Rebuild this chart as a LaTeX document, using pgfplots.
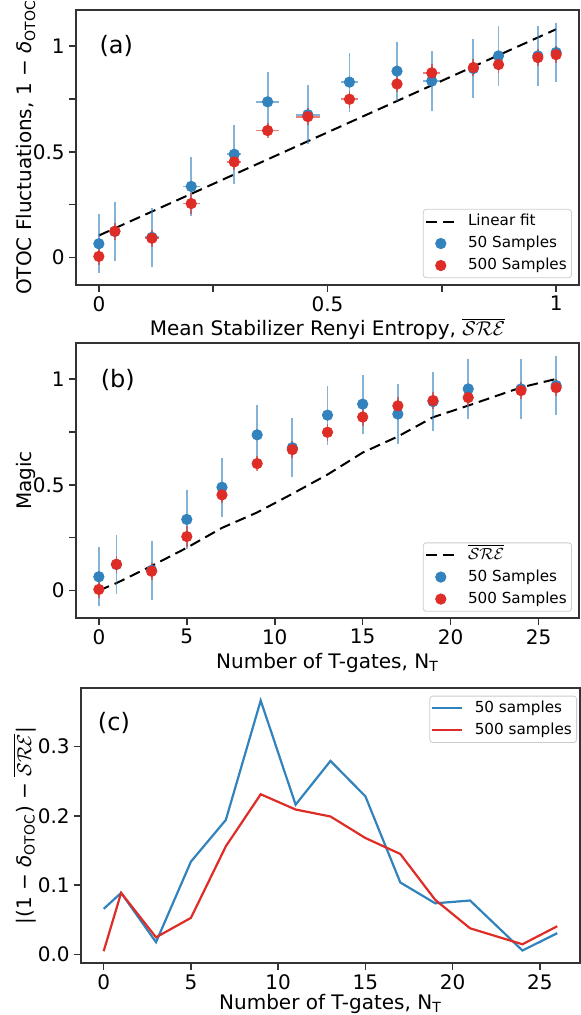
\documentclass[border=0pt]{standalone}
\usepackage{fontspec}
\setmainfont{DejaVu Sans}
\usepackage{pgfplots}
\usepackage{pgfplotstable}
\pgfplotsset{compat=1.18}

\definecolor{bl}{HTML}{3182BD}
\definecolor{rd}{HTML}{DE2D26}

% nt: T-gates, sre: mean SRE (x of panel a), xe: its spread
% ob/obe: OTOC fluct. 50 samples, orr/ore: 500 samples
\pgfplotstableread{
nt sre   xe    ob    obe  orr   ore
0  0.000 0.000 0.065 0.14 0.005 0.040
1  0.035 0.005 0.123 0.14 0.124 0.040
3  0.116 0.015 0.095 0.14 0.091 0.040
5  0.202 0.019 0.336 0.14 0.255 0.050
7  0.296 0.015 0.488 0.14 0.452 0.040
9  0.369 0.025 0.736 0.14 0.600 0.036
11 0.457 0.026 0.675 0.14 0.666 0.040
13 0.548 0.019 0.829 0.14 0.748 0.040
15 0.652 0.010 0.881 0.14 0.820 0.040
17 0.728 0.019 0.834 0.14 0.873 0.040
19 0.819 0.010 0.893 0.14 0.898 0.040
21 0.874 0.010 0.953 0.14 0.912 0.040
24 0.960 0.005 0.953 0.14 0.945 0.040
26 1.000 0.005 0.969 0.14 0.959 0.040
}\data

\pgfplotstableread{
nt d50   d500
0  0.066 0.005
1  0.089 0.089
3  0.018 0.025
5  0.134 0.053
7  0.194 0.156
9  0.366 0.231
11 0.216 0.209
13 0.279 0.199
15 0.228 0.168
17 0.104 0.145
19 0.074 0.079
21 0.078 0.038
24 0.006 0.015
26 0.031 0.041
}\diffs

\pgfplotsset{
  panel/.style={
    width=251.5pt, height=137.5pt, scale only axis, anchor=north west,
    tick align=outside, xtick pos=bottom, ytick pos=left,
    major tick length=3.5pt, minor tick length=3.5pt,
    tick style={black!80, line width=0.8pt},
    axis line style={black!80, line width=0.8pt},
    tick label style={font=\fontsize{10}{12}\selectfont, inner sep=2pt},
    label style={font=\fontsize{10}{12}\selectfont, inner sep=0pt},
    /pgf/number format/assume math mode=true,
    legend cell align=left,
    legend style={draw=black!20, rounded corners=1.5pt, fill=white,
      font=\fontsize{7.6}{9}\selectfont, inner sep=0.8pt,
      nodes={inner sep=1.6pt, text height=5.8pt, text depth=1.6pt},
      row sep=0.4pt,
      /tikz/every odd column/.append style={column sep=4pt}},
  },
  dots/.style={only marks, mark=*, mark size=2.6pt, color=#1,
    mark options={draw=#1, fill=#1},
    legend image code/.code={\draw[mark repeat=2, mark phase=2, ##1]
      plot coordinates {(0pt,0pt)(7.5pt,0pt)(15pt,0pt)};}},
  lineleg/.style={legend image code/.code={\draw[##1](0pt,0pt)--(15pt,0pt);}},
}

\begin{document}
\begin{tikzpicture}
\useasboundingbox (0,0) rectangle (290.5pt,-507.5pt);

% (a)
\begin{axis}[panel, at={(38pt,-5pt)},
  xmin=-0.05, xmax=1.05, ymin=-0.13, ymax=1.17,
  xtick={0,0.5,1}, minor xtick={0.25,0.75},
  ytick={0,0.5,1}, minor ytick={0.25,0.75},
  xlabel={Mean Stabilizer Renyi Entropy, $\overline{\mathcal{SRE}}$},
  ylabel={OTOC Fluctuations, 1 − \textit{δ}\textsubscript{OTOC}},
  xlabel style={at={(axis description cs:0.5,-0.185)}, anchor=base},
  ylabel style={at={(axis description cs:-0.088,0.5)}, anchor=base},
  legend style={at={(axis description cs:0.986,0.025)}, anchor=south east},
]
\addplot[black, dashed, line width=1pt, dash pattern=on 5.5pt off 3pt, lineleg]
  coordinates {(0,0.104) (1,1.079)};
\addlegendentry{Linear fit}
\addplot[dots=bl, error bars/.cd, x dir=both, x explicit, y dir=both, y explicit,
  error mark=none, error bar style={line width=0.9pt, bl, opacity=0.6}]
  table[x=sre, y=ob, x error=xe, y error=obe]{\data};
\addlegendentry{50 Samples}
\addplot[dots=rd, error bars/.cd, x dir=both, x explicit, y dir=both, y explicit,
  error mark=none, error bar style={line width=0.9pt, rd, opacity=0.6}]
  table[x=sre, y=orr, x error=xe, y error=ore]{\data};
\addlegendentry{500 Samples}
\node[font=\fontsize{12}{14}\selectfont] at (axis description cs:0.08,0.87) {(a)};
\end{axis}

% (b)
\begin{axis}[panel, at={(38pt,-171.5pt)},
  xmin=-1.3, xmax=27.3, ymin=-0.13, ymax=1.17,
  xtick={0,5,...,25},
  ytick={0,0.5,1}, minor ytick={0.25,0.75},
  xlabel={Number of T-gates, N\textsubscript{T}},
  ylabel={Magic},
  xlabel style={at={(axis description cs:0.5,-0.182)}, anchor=base},
  ylabel style={at={(axis description cs:-0.089,0.5)}, anchor=base},
  legend style={at={(axis description cs:0.986,0.023)}, anchor=south east},
]
\addplot[black, dashed, line width=1pt, dash pattern=on 5.5pt off 3pt, lineleg]
  table[x=nt, y=sre]{\data};
\addlegendentry{$\overline{\mathcal{SRE}}$}
\addplot[dots=bl, error bars/.cd, y dir=both, y explicit,
  error mark=none, error bar style={line width=0.9pt, bl, opacity=0.6}]
  table[x=nt, y=ob, y error=obe]{\data};
\addlegendentry{50 Samples}
\addplot[dots=rd, error bars/.cd, y dir=both, y explicit,
  error mark=none, error bar style={line width=0.9pt, rd, opacity=0.6}]
  table[x=nt, y=orr, y error=ore]{\data};
\addlegendentry{500 Samples}
\node[font=\fontsize{12}{14}\selectfont] at (axis description cs:0.083,0.865) {(b)};
\end{axis}

% (c)
\begin{axis}[panel, at={(40.5pt,-344pt)}, width=249.5pt,
  xmin=-1.3, xmax=27.3, ymin=-0.012, ymax=0.384,
  xtick={0,5,...,25}, ytick={0,0.1,0.2,0.3},
  yticklabel style={/pgf/number format/.cd, fixed, fixed zerofill, precision=1},
  xlabel={Number of T-gates, N\textsubscript{T}},
  ylabel={|(1 − \textit{δ}\textsubscript{OTOC}) − $\overline{\mathcal{SRE}}$|},
  xlabel style={at={(axis description cs:0.5,-0.168)}, anchor=base},
  ylabel style={at={(axis description cs:-0.1,0.5)}, anchor=base},
  legend style={at={(axis description cs:0.994,0.972)}, anchor=north east},
]
\addplot[bl, line width=1.1pt, lineleg] table[x=nt, y=d50]{\diffs};
\addlegendentry{50 samples}
\addplot[rd, line width=1.1pt, lineleg] table[x=nt, y=d500]{\diffs};
\addlegendentry{500 samples}
\node[font=\fontsize{12}{14}\selectfont] at (axis description cs:0.066,0.873) {(c)};
\end{axis}
\end{tikzpicture}
\end{document}
